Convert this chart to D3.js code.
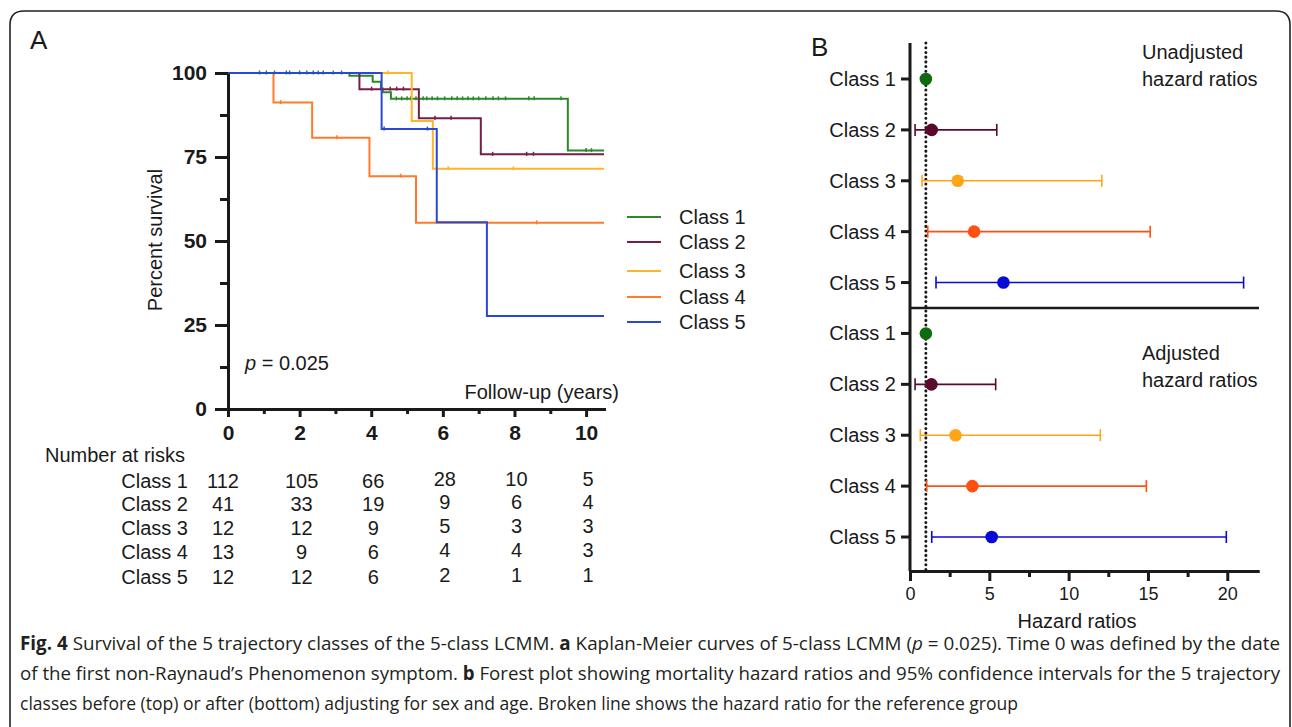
<!DOCTYPE html>
<html lang="en">
<head>
<meta charset="UTF-8">
<title>Fig. 4 Survival of the 5 trajectory classes</title>
<script src="https://cdn.jsdelivr.net/npm/d3@7/dist/d3.min.js"></script>
<style>
    body { margin: 0; background: #fff; }
    svg { display: block; font-family: "Liberation Sans", Arial, sans-serif; }
    .axis path, .axis line { stroke: #1a1a1a; stroke-width: 3; }
    .axis text { fill: #1a1a1a; }
    .km-axis text { font-size: 21px; font-weight: bold; }
    .hr-axis text { font-size: 18px; }
    .lbl { font-size: 20px; fill: #1a1a1a; }
</style>
</head>
<body>
<svg id="fig" width="1292" height="727"></svg>
<script>
// ---- data ----
const classes = ["Class 1", "Class 2", "Class 3", "Class 4", "Class 5"];
const kmColors = ["#2a8a2a", "#7a1c48", "#ffb52b", "#ff7b2b", "#2a48d8"];
const hrColors = ["#0f6a10", "#5a0a2c", "#ffa618", "#ff5010", "#0a0ad6"];

// Kaplan-Meier steps: [years, percent survival]
const km1 = [[0, 100], [3.39, 99.2], [4.04, 97.4], [4.27, 95.4], [4.32, 94.3], [4.55, 92.3], [9.49, 76.9], [10.5, 76.9]];
const km2 = [[0, 100], [3.67, 95.2], [5.33, 86.5], [7.06, 75.8], [10.5, 75.8]];
const km3 = [[0, 100], [5.13, 85.7], [5.72, 71.5], [10.5, 71.5]];
const km4 = [[0, 100], [1.27, 91.2], [2.35, 80.7], [3.95, 69.3], [5.25, 55.4], [10.5, 55.4]];
const km5 = [[0, 100], [4.29, 83.3], [5.83, 55.6], [7.23, 27.7], [10.5, 27.7]];
const kmCurves = [km1, km2, km3, km4, km5];

// censored observations (years)
const cens1 = [0.88, 1.07, 1.3, 1.63, 1.72, 2.0, 2.2, 2.38, 2.52, 2.66, 2.94, 3.17,
               4.7, 4.85, 5.0, 5.1, 5.25, 5.45, 5.55, 5.7, 5.85, 6.05, 6.25, 6.4, 6.55, 6.7,
               6.85, 7.0, 7.2, 7.4, 7.55, 7.75, 8.4, 8.55, 9.3, 10.0, 10.15];
const cens2 = [4.01, 4.53, 4.71, 4.9, 5.78, 6.23, 7.39, 8.34, 8.53];
const cens3 = [4.47, 6.15, 7.97];
const cens4 = [1.47, 3.04, 4.82, 8.62];
const cens5 = [4.36, 5.57];
const censored = [cens1, cens2, cens3, cens4, cens5];

const yearTicks = [0, 2, 4, 6, 8, 10];
const survTicks = [0, 25, 50, 75, 100];

// number at risk, by class, at yearTicks
const risk1 = [112, 105, 66, 28, 10, 5];
const risk2 = [41, 33, 19, 9, 6, 4];
const risk3 = [12, 12, 9, 5, 3, 3];
const risk4 = [13, 9, 6, 4, 4, 3];
const risk5 = [12, 12, 6, 2, 1, 1];
const atRisk = [risk1, risk2, risk3, risk4, risk5];

// hazard ratios
const hrUnadj = [1.0, 1.37, 3.01, 4.04, 5.89];
const loUnadj = [1.0, 0.32, 0.76, 1.12, 1.64];
const hiUnadj = [1.0, 5.47, 12.09, 15.14, 21.03];
const hrAdj = [1.0, 1.35, 2.87, 3.93, 5.15];
const loAdj = [1.0, 0.32, 0.65, 1.05, 1.37];
const hiAdj = [1.0, 5.4, 12.0, 14.9, 19.94];
const hrTicks = [0, 5, 10, 15, 20];

const svg = d3.select("#fig");

// outer frame (bottom runs off the page)
svg.append("path")
    .attr("d", "M10,740 L10,25 Q10,11 24,11 L1276,11 Q1290,11 1290,25 L1290,740")
    .attr("fill", "none").attr("stroke", "#222").attr("stroke-width", 1.6);

svg.append("text").attr("x", 30).attr("y", 49).attr("font-size", 26).attr("fill", "#1a1a1a").text("A");
svg.append("text").attr("x", 811).attr("y", 56).attr("font-size", 26).attr("fill", "#1a1a1a").text("B");

// ===== Panel A: Kaplan-Meier =====
const x = d3.scaleLinear().domain([0, 10.5]).range([228, 604]);
const y = d3.scaleLinear().domain([0, 100]).range([409, 73]);

const km = svg.append("g");

km.append("g").attr("class", "axis km-axis")
    .attr("transform", `translate(${x(0)},0)`)
    .call(d3.axisLeft(y).tickValues([12.5, 37.5, 62.5, 87.5]).tickSize(8).tickSizeOuter(0).tickFormat(""));
km.append("g").attr("class", "axis km-axis")
    .attr("transform", `translate(${x(0)},0)`)
    .call(d3.axisLeft(y).tickValues(survTicks).tickSize(13).tickSizeOuter(0).tickPadding(8));

km.append("g").attr("class", "axis km-axis")
    .attr("transform", `translate(0,${y(0)})`)
    .call(d3.axisBottom(x).tickValues([1, 3, 5, 7, 9]).tickSize(5).tickSizeOuter(0).tickFormat(""));
km.append("g").attr("class", "axis km-axis")
    .attr("transform", `translate(0,${y(0)})`)
    .call(d3.axisBottom(x).tickValues(yearTicks).tickSize(8).tickSizeOuter(0).tickPadding(8));

km.selectAll(".domain").attr("stroke-linecap", "square");

const stepLine = d3.line().x(d => x(d[0])).y(d => y(d[1])).curve(d3.curveStepAfter);

function survAt(curve, t) {
    let s = curve[0][1];
    curve.forEach(d => { if (d[0] <= t) s = d[1]; });
    return s;
}

kmCurves.forEach((c, i) => {
    km.append("path").datum(c)
        .attr("d", stepLine)
        .attr("fill", "none")
        .attr("stroke", kmColors[i])
        .attr("stroke-width", 2);
    km.selectAll(null).data(censored[i]).enter().append("line")
        .attr("x1", t => x(t)).attr("x2", t => x(t))
        .attr("y1", t => y(survAt(c, t)) - 2.5)
        .attr("y2", t => y(survAt(c, t)) + 1.5)
        .attr("stroke", kmColors[i]).attr("stroke-width", 1.5);
});

km.append("text").attr("class", "lbl")
    .attr("transform", "translate(162,240) rotate(-90)")
    .attr("text-anchor", "middle")
    .text("Percent survival");

const pTxt = km.append("text").attr("class", "lbl").attr("x", 245).attr("y", 370);
pTxt.append("tspan").attr("font-style", "italic").text("p");
pTxt.append("tspan").text(" = 0.025");

km.append("text").attr("class", "lbl")
    .attr("x", 619).attr("y", 399).attr("text-anchor", "end")
    .text("Follow-up (years)");

// legend
const legendY = [217, 242, 271, 297, 322];
const leg = km.selectAll(".leg").data(classes).enter().append("g")
    .attr("transform", (d, i) => `translate(0,${legendY[i]})`);
leg.append("line").attr("x1", 627).attr("x2", 661)
    .attr("stroke", (d, i) => kmColors[i]).attr("stroke-width", 2);
leg.append("text").attr("class", "lbl").attr("x", 679).attr("y", 7).text(d => d);

// number at risk table
km.append("text").attr("class", "lbl").attr("x", 45).attr("y", 462).text("Number at risks");
const rowY = [481, 504, 528, 552, 577];
classes.forEach((c, i) => {
    km.append("text").attr("class", "lbl")
        .attr("x", 188).attr("y", rowY[i] + 7).attr("text-anchor", "end").text(c);
    km.selectAll(null).data(atRisk[i]).enter().append("text")
        .attr("class", "lbl")
        .attr("x", (d, j) => x(yearTicks[j]) - (j === 0 ? 5 : 0) + (j > 0 ? 2 : 0))
        .attr("y", (d, j) => rowY[i] + 7 - (j >= 3 ? 2 : 0))
        .attr("text-anchor", "middle")
        .text(d => d);
});

// ===== Panel B: forest plot =====
const hx = d3.scaleLinear().domain([0, 22]).range([910, 1259]);
const hy = d3.scaleLinear().domain([0, 9]).range([79, 537]);
const rowLabels = classes.concat(classes);
const pts = hrUnadj.map((v, i) => ({ hr: v, lo: loUnadj[i], hi: hiUnadj[i], c: i }))
    .concat(hrAdj.map((v, i) => ({ hr: v, lo: loAdj[i], hi: hiAdj[i], c: i })));

const fp = svg.append("g");

fp.append("g").attr("class", "axis hr-axis")
    .attr("transform", "translate(0,571)")
    .call(d3.axisBottom(hx).tickValues([2.5, 7.5, 12.5, 17.5]).tickSize(6).tickSizeOuter(0).tickFormat(""));
fp.append("g").attr("class", "axis hr-axis")
    .attr("transform", "translate(0,571)")
    .call(d3.axisBottom(hx).tickValues(hrTicks).tickSize(10).tickSizeOuter(0).tickPadding(6));

// left axis with class labels
fp.append("line").attr("x1", hx(0)).attr("x2", hx(0)).attr("y1", 43).attr("y2", 571)
    .attr("stroke", "#1a1a1a").attr("stroke-width", 3);
fp.selectAll(".rt").data(rowLabels).enter().append("line")
    .attr("x1", hx(0) - 9).attr("x2", hx(0))
    .attr("y1", (d, i) => hy(i)).attr("y2", (d, i) => hy(i))
    .attr("stroke", "#1a1a1a").attr("stroke-width", 3);
fp.selectAll(".rl").data(rowLabels).enter().append("text")
    .attr("class", "lbl").attr("font-size", 19)
    .attr("x", hx(0) - 14).attr("y", (d, i) => hy(i) + 7)
    .attr("text-anchor", "end").text(d => d);

// separator between unadjusted and adjusted
fp.append("line").attr("x1", hx(0)).attr("x2", hx(22))
    .attr("y1", (hy(4) + hy(5)) / 2).attr("y2", (hy(4) + hy(5)) / 2)
    .attr("stroke", "#1a1a1a").attr("stroke-width", 2.5);

// reference line
fp.append("line").attr("x1", hx(1)).attr("x2", hx(1)).attr("y1", 43).attr("y2", 571)
    .attr("stroke", "#1a1a1a").attr("stroke-width", 3)
    .attr("stroke-dasharray", "0.1,4.6").attr("stroke-linecap", "round");

const bars = fp.selectAll(".bar").data(pts).enter().append("g")
    .attr("transform", (d, i) => `translate(0,${hy(i)})`);
bars.filter(d => d.hi > d.lo).append("line")
    .attr("x1", d => hx(d.lo)).attr("x2", d => hx(d.hi))
    .attr("stroke", d => hrColors[d.c]).attr("stroke-width", 1.6);
bars.filter(d => d.hi > d.lo).append("line")
    .attr("x1", d => hx(d.lo)).attr("x2", d => hx(d.lo)).attr("y1", -6).attr("y2", 6)
    .attr("stroke", d => hrColors[d.c]).attr("stroke-width", 1.6);
bars.filter(d => d.hi > d.lo).append("line")
    .attr("x1", d => hx(d.hi)).attr("x2", d => hx(d.hi)).attr("y1", -6).attr("y2", 6)
    .attr("stroke", d => hrColors[d.c]).attr("stroke-width", 1.6);
bars.append("circle")
    .attr("cx", d => hx(d.hr)).attr("r", 6.3)
    .attr("fill", d => hrColors[d.c]);

fp.append("text").attr("class", "lbl").attr("font-size", 18)
    .attr("x", 1077).attr("y", 628).attr("text-anchor", "middle").text("Hazard ratios");

function twoLines(x0, y0, a, b) {
    const t = fp.append("text").attr("class", "lbl").attr("font-size", 23).attr("x", x0).attr("y", y0);
    t.append("tspan").attr("x", x0).text(a);
    t.append("tspan").attr("x", x0).attr("dy", 27).text(b);
}
twoLines(1142, 59, "Unadjusted", "hazard ratios");
twoLines(1142, 360, "Adjusted", "hazard ratios");

// ===== caption =====
const cap = svg.append("g")
    .attr("font-family", "'Open Sans', 'DejaVu Sans', sans-serif")
    .attr("font-size", 19).attr("fill", "#231f20");

const l1 = cap.append("text").attr("x", 20).attr("y", 650)
    .attr("textLength", 1260).attr("lengthAdjust", "spacingAndGlyphs");
l1.append("tspan").attr("font-weight", "bold").text("Fig. 4");
l1.append("tspan").text(" Survival of the 5 trajectory classes of the 5-class LCMM. ");
l1.append("tspan").attr("font-weight", "bold").text("a");
l1.append("tspan").text(" Kaplan-Meier curves of 5-class LCMM (");
l1.append("tspan").attr("font-style", "italic").text("p");
l1.append("tspan").text(" = 0.025). Time 0 was defined by the date");

const l2 = cap.append("text").attr("x", 20).attr("y", 680)
    .attr("textLength", 1260).attr("lengthAdjust", "spacingAndGlyphs");
l2.append("tspan").text("of the first non-Raynaud\u2019s Phenomenon symptom. ");
l2.append("tspan").attr("font-weight", "bold").text("b");
l2.append("tspan").text(" Forest plot showing mortality hazard ratios and 95% confidence intervals for the 5 trajectory");

cap.append("text").attr("x", 20).attr("y", 710)
    .attr("textLength", 998).attr("lengthAdjust", "spacingAndGlyphs")
    .text("classes before (top) or after (bottom) adjusting for sex and age. Broken line shows the hazard ratio for the reference group");
</script>
</body>
</html>
